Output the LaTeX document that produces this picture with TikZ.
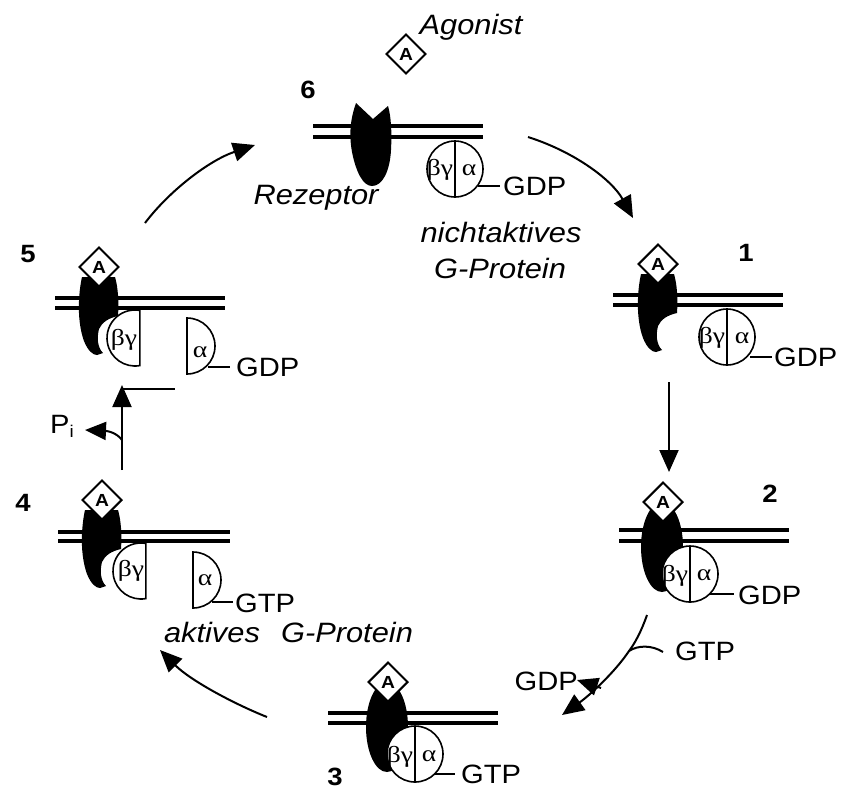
\documentclass[tikz,border=0pt]{standalone}
\usepackage{fontspec}
\setmainfont[FakeStretch=1.1]{Liberation Sans}
\newfontfamily\grk[FakeStretch=1.2]{Liberation Serif}
\usetikzlibrary{arrows.meta}

\tikzset{
  membrane/.style={line width=4pt},
  flow/.style={line width=2pt, -{Triangle[length=22pt,width=19pt]}},
  gring/.style={draw, line width=1.6pt, fill=white},
  ligdraw/.style={draw, line width=2.1pt, fill=white, line join=miter},
  ligtext/.style={inner sep=0pt, font=\bfseries\fontsize{17.5}{18}\selectfont},
  lbl/.style={inner sep=0pt, font=\fontsize{26.5}{30}\selectfont},
  itl/.style={inner sep=0pt, font=\itshape\fontsize{28}{32}\selectfont},
  num/.style={inner sep=0pt, font=\bfseries\fontsize{25}{28}\selectfont},
  greek/.style={inner sep=0pt, font=\grk\fontsize{23}{25}\selectfont},
  tick/.style={line width=1.6pt},
}

% agonist: white diamond with the letter A, #2 names the letter node
\newcommand\agon[2]{%
  \draw[ligdraw] #1 ++(-19.5,0) -- ++(19.5,-19.5) -- ++(19.5,19.5) -- ++(-19.5,19.5) -- cycle;
  \node[ligtext] (#2) at #1 {A};}
% receptor with bound agonist: hook shape, open towards the lower right
\newcommand\recBound[1]{%
  \fill[shift={#1}] (-17,10) .. controls (-21,28) and (-22,55) .. (-15,74)
    .. controls (-11,84) and (-6,88) .. (-2,88) -- (4,86)
    .. controls (-2,80) and (-2,70) .. (0,62)
    .. controls (3,55) and (10,51) .. (19,49)
    .. controls (20,35) and (19,20) .. (16,10) -- cycle;}
% receptor coupled to the G protein: plain oval
\newcommand\recOval[1]{\fill[shift={#1}] (-1,45) ellipse[x radius=21, y radius=45];}
% complete heterotrimer
\newcommand\gFull[1]{%
  \draw[gring, shift={#1}] (0,0) circle[radius=28];
  \draw[tick, shift={#1}] (0,-28) -- (0,28);}
% dissociated subunits
\newcommand\bgPart[1]{\draw[gring, shift={#1}] (80:28) arc[start angle=80, end angle=280, radius=28] -- cycle;}
\newcommand\aPart[1]{\draw[gring, shift={#1}] (-90:28) arc[start angle=-90, end angle=90, radius=28] -- cycle;}

\begin{document}
\begin{tikzpicture}[x=1pt, y=-1pt]
\useasboundingbox (0,0) rectangle (842,796);

% ---------------- agonist
\agon{(406,54)}{ag}
\node[itl] (agtxt) at (471,27) {Agonist};

% ---------------- state 6: free receptor, inactive G protein
\draw[membrane] (313,126) -- (483,126);
\draw[membrane] (313,137) -- (483,137);
\fill (356,103) .. controls (350,120) and (349,135) .. (352,152)
  .. controls (356,172) and (363,186) .. (372,186)
  .. controls (383,186) and (390,170) .. (391,150)
  .. controls (392,132) and (391,116) .. (388,106) -- (373,119) -- cycle;
\gFull{(455,169)}
\node[greek] (bg6) at (440,170) {βγ};
\node[greek] (a6) at (469,170) {α};
\draw[tick] (478,186) -- (500,186);
\node[lbl, anchor=west] (gdp6) at (503,186) {GDP};
\node[num] (n6) at (308,90) {6};
\node[itl] (rez) at (316,198) {Rezeptor};
\node[itl] (nakt) at (501,232) {nichtaktives};
\node[itl] (gp6) at (500,268) {G-Protein};

% ---------------- state 1
\draw[membrane] (613,295) -- (783,295);
\draw[membrane] (613,305) -- (783,305);
\recBound{(658,264)}
\agon{(658,264)}{L1}
\gFull{(727,337)}
\node[greek] (bg1) at (712,338) {βγ};
\node[greek] (a1) at (742,338) {α};
\draw[tick] (750,357) -- (772,357);
\node[lbl, anchor=west] (gdp1) at (774,357) {GDP};
\node[num] (n1) at (746,253) {1};

% ---------------- state 2
\draw[membrane] (619,530) -- (789,530);
\draw[membrane] (619,541) -- (789,541);
\recOval{(663,502)}
\agon{(663,502)}{L2}
\gFull{(690,574)}
\node[greek] (bg2) at (675,576) {βγ};
\node[greek] (a2) at (704,575) {α};
\draw[tick] (709,594) -- (734,594);
\node[lbl, anchor=west] (gdp2) at (738,595) {GDP};
\node[num] (n2) at (770,494) {2};

% ---------------- state 3
\draw[membrane] (328,713) -- (498,713);
\draw[membrane] (328,723) -- (498,723);
\recOval{(388,682)}
\agon{(388,682)}{L3}
\gFull{(415,754)}
\node[greek] (bg3) at (400,757) {βγ};
\node[greek] (a3) at (429,756) {α};
\draw[tick] (435,774) -- (455,774);
\node[lbl, anchor=west] (gtp3) at (461,774) {GTP};
\node[num] (n3) at (335,777) {3};

% ---------------- state 4: active, dissociated G protein
\draw[membrane] (58,532) -- (230,532);
\draw[membrane] (58,541) -- (230,541);
\recBound{(102,500)}
\agon{(102,500)}{L4}
\bgPart{(141,571)}
\aPart{(193,580)}
\node[greek] (bg4) at (131,571) {βγ};
\node[greek] (a4) at (205,580) {α};
\draw[tick] (212,602) -- (233,602);
\node[lbl, anchor=west] (gtp4) at (235,603) {GTP};
\node[num] (n4) at (23,503) {4};
\node[itl] (akt) at (212,632) {aktives};
\node[itl] (gp4) at (347,632) {G-Protein};

% ---------------- state 5: alpha back to GDP
\draw[membrane] (55,298) -- (225,298);
\draw[membrane] (55,308) -- (225,308);
\recBound{(99,267)}
\agon{(99,267)}{L5}
\bgPart{(135,338)}
\aPart{(187,346)}
\node[greek] (bg5) at (124,340) {βγ};
\node[greek] (a5) at (200,352) {α};
\draw[tick] (208,367) -- (230,367);
\node[lbl, anchor=west] (gdp5) at (236,367) {GDP};
\node[num] (n5) at (28,254) {5};

% ---------------- cycle arrows
\coordinate (c61a) at (528,137);
\coordinate (c61b) at (633,218);
\draw[flow] (c61a) .. controls (575,152) and (612,180) .. (c61b);

\coordinate (c12a) at (669,382);
\coordinate (c12b) at (669,472);
\draw[flow] (c12a) -- (c12b);

% nucleotide exchange between states 2 and 3
\coordinate (c23a) at (647,615);
\coordinate (c23j) at (629,651);
\coordinate (c23b) at (562,715);
\coordinate (gtpin) at (663,652);
\coordinate (gdpfork) at (601,688);
\coordinate (gdpout) at (577,680);
\draw[flow] (c23a) .. controls (641,632) and (635,643) .. (c23j)
  .. controls (615,672) and (590,695) .. (c23b);
\draw[line width=2pt] (gtpin) .. controls (652,645) and (638,645) .. (c23j);
\draw[flow, -{Triangle[length=21pt,width=18pt]}] (gdpfork) -- (gdpout);
\node[lbl, anchor=west] (gtpx) at (675,651) {GTP};
\node[lbl, anchor=east] (gdpx) at (578,681) {GDP};

\coordinate (c34a) at (267,717);
\coordinate (c34b) at (160,650);
\draw[flow] (c34a) .. controls (232,703) and (190,680) .. (c34b);

% hydrolysis: 4 -> 5 with phosphate release
\coordinate (c45a) at (122,470);
\coordinate (c45b) at (122,385);
\coordinate (c45h) at (175,389);
\coordinate (c45t) at (122,389);
\coordinate (pifork) at (122,440);
\coordinate (piout) at (85,430);
\draw[flow] (c45a) -- (c45b);
\draw[line width=2pt] (c45t) -- (c45h);
\draw[flow, -{Triangle[length=21pt,width=18pt]}] (pifork) .. controls (117,433) and (108,431) .. (piout);
\node[lbl] (pi) at (62,426) {P\raisebox{-4pt}{\fontsize{17}{17}\selectfont i}};

\coordinate (c56a) at (145,223);
\coordinate (c56b) at (255,145);
\draw[flow] (c56a) .. controls (170,190) and (210,160) .. (c56b);
\end{tikzpicture}
\end{document}
